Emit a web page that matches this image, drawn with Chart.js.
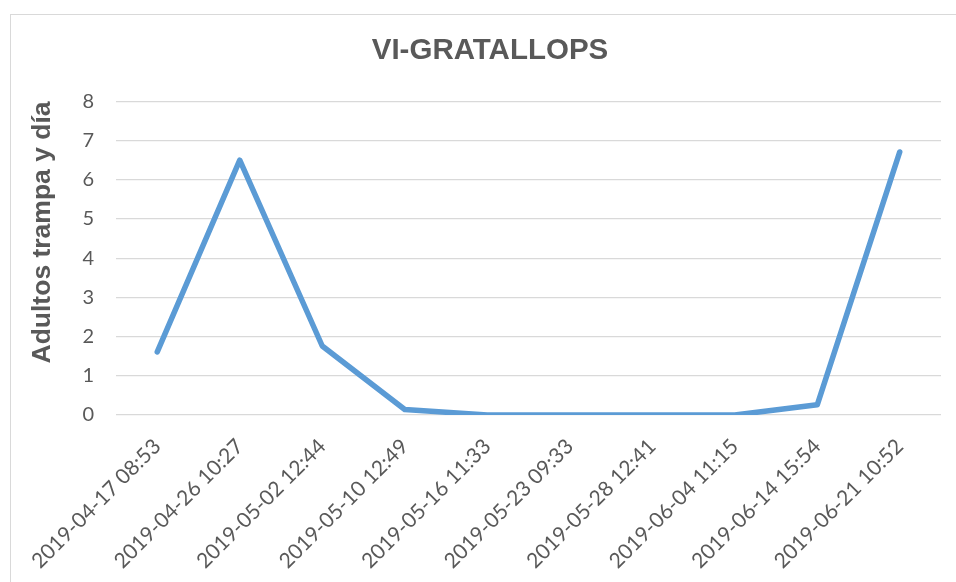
<!DOCTYPE html>
<html>
<head>
<meta charset="utf-8">
<script src="https://cdn.jsdelivr.net/npm/chart.js@4/dist/chart.umd.min.js"></script>
<style>
  html, body { margin: 0; padding: 0; background: #ffffff; overflow: hidden; }
  #frame { position: absolute; left: 10px; top: 14px; width: 1000px; height: 700px; border: 1px solid #d9d9d9; box-sizing: border-box; }
  #wrap { position: absolute; left: 0; top: 0; width: 956px; height: 582px; }
</style>
</head>
<body>
<div id="frame"></div>
<div id="wrap"><canvas id="c" width="956" height="582"></canvas></div>
<script>
const chartTitle = "VI-GRATALLOPS";
const yAxisTitle = "Adultos trampa y día";
const categories = [
  "2019-04-17 08:53", "2019-04-26 10:27", "2019-05-02 12:44", "2019-05-10 12:49",
  "2019-05-16 11:33", "2019-05-23 09:33", "2019-05-28 12:41", "2019-06-04 11:15",
  "2019-06-14 15:54", "2019-06-21 10:52"
];
const adultsValues = [1.61, 6.5, 1.76, 0.14, 0, 0, 0, 0, 0.26, 6.71];
const yTicks = [0, 1, 2, 3, 4, 5, 6, 7, 8];

new Chart(document.getElementById('c'), {
  type: 'line',
  data: {
    labels: categories,
    datasets: [{
      label: yAxisTitle,
      data: adultsValues,
      borderColor: '#5b9bd5',
      backgroundColor: '#5b9bd5',
      borderWidth: 5.5,
      pointRadius: 0,
      pointHoverRadius: 0,
      tension: 0,
      fill: false,
      borderCapStyle: 'round',
      borderJoinStyle: 'round'
    }]
  },
  options: {
    responsive: false,
    animation: false,
    devicePixelRatio: 1,
    layout: { padding: { left: 39, right: 15, top: 0, bottom: 0 } },
    plugins: {
      legend: { display: false },
      tooltip: { enabled: false },
      title: {
        display: true,
        text: chartTitle,
        color: '#595959',
        font: { family: "'Liberation Sans', Arial, sans-serif", size: 29.5, weight: 'bold' },
        padding: { top: 33, bottom: 33 }
      }
    },
    scales: {
      x: {
        offset: true,
        grid: { display: false, drawTicks: false },
        border: { display: false },
        ticks: {
          color: '#595959',
          font: { family: "Lato, 'Open Sans', sans-serif", size: 21 },
          maxRotation: 45,
          minRotation: 45,
          autoSkip: false,
          padding: 19
        },
        afterFit: (s) => { s.height = 167; }
      },
      y: {
        min: 0,
        max: 8,
        afterBuildTicks: (s) => { s.ticks = yTicks.map(v => ({ value: v })); },
        grid: { color: '#d9d9d9', lineWidth: 1.3, drawTicks: false },
        border: { display: false },
        ticks: {
          color: '#595959',
          font: { family: "Lato, 'Open Sans', sans-serif", size: 20 },
          padding: 22
        },
        title: {
          display: true,
          text: yAxisTitle,
          color: '#595959',
          align: 'end',
          font: { family: "'Liberation Sans', Arial, sans-serif", size: 26.5, weight: 'bold' },
          padding: { top: -12, bottom: 0 }
        },
        afterFit: (s) => { s.width = 77; }
      }
    }
  }
});
</script>
</body>
</html>
